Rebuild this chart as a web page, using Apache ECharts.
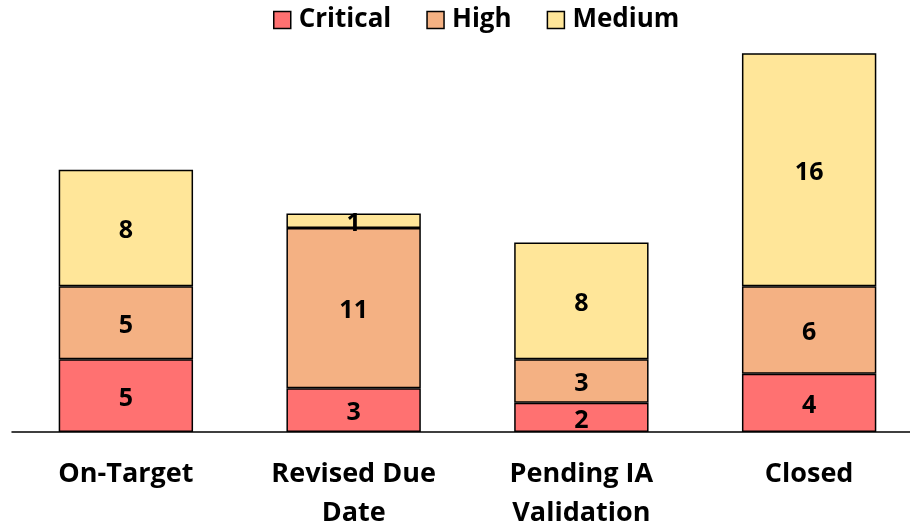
<!DOCTYPE html>
<html>
<head>
<meta charset="utf-8">
<script src="https://cdn.jsdelivr.net/npm/echarts@6/dist/echarts.min.js"></script>
<style>
  html, body { margin: 0; padding: 0; background: #fff; }
  #chart { width: 910px; height: 527px; }
</style>
</head>
<body>
<div id="chart"></div>
<script>
// Findings by status, stacked by severity
const categories = ['On-Target', 'Revised Due\nDate', 'Pending IA\nValidation', 'Closed'];
const critical = [5, 3, 2, 4];
const high = [5, 11, 3, 6];
const medium = [8, 1, 8, 16];

const FONT = '"Open Sans"';

function stackSeries(name, data, color) {
  return {
    name: name,
    type: 'bar',
    stack: 'total',
    data: data,
    barWidth: '59%',
    itemStyle: { color: color, borderColor: '#000', borderWidth: 1.5 },
    label: {
      show: true,
      position: 'inside',
      offset: [0, 3],
      color: '#000',
      fontFamily: FONT,
      fontWeight: 'bold',
      fontSize: 25
    }
  };
}

const chart = echarts.init(document.getElementById('chart'));
chart.setOption({
  animation: false,
  legend: {
    top: 2,
    left: 268,
    itemWidth: 17,
    itemHeight: 17,
    itemGap: 35,
    icon: 'rect',
    itemStyle: { borderColor: '#000', borderWidth: 1.5 },
    textStyle: {
      fontFamily: FONT, fontWeight: 'bold', fontSize: 26, color: '#000',
      padding: [0, 0, 0, 3]
    }
  },
  grid: { left: 12, width: 911, top: 24, bottom: 95, outerBoundsMode: 'none', containLabel: false },
  xAxis: {
    type: 'category',
    data: categories,
    axisLine: { lineStyle: { color: '#000', width: 1.5 } },
    axisTick: { show: false },
    axisLabel: {
      interval: 0,
      margin: 23,
      color: '#000',
      fontFamily: FONT,
      fontWeight: 'bold',
      fontSize: 27,
      lineHeight: 39
    }
  },
  yAxis: {
    type: 'value',
    min: 0,
    max: 28,
    show: false,
    splitLine: { show: false }
  },
  series: [
    stackSeries('Critical', critical, '#FF7171'),
    stackSeries('High', high, '#F4B183'),
    stackSeries('Medium', medium, '#FFE699')
  ]
});
</script>
</body>
</html>
